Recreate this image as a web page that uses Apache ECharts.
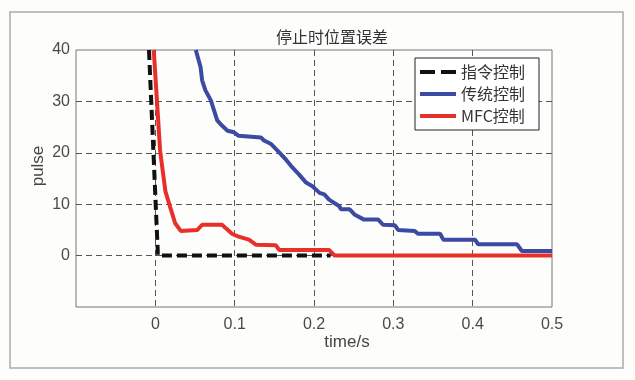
<!DOCTYPE html>
<html>
<head>
<meta charset="utf-8">
<script src="https://cdn.jsdelivr.net/npm/echarts@6/dist/echarts.min.js"></script>
<style>
html,body{margin:0;padding:0;background:#fdfdfc;}
#c{width:635px;height:380px;}
</style>
</head>
<body>
<div id="c"></div>
<script>
// ---- data ----
var titleText = '停止时位置误差';
var seriesNames = ['指令控制', '传统控制', 'MFC控制'];
var xTicks = [0, 0.1, 0.2, 0.3, 0.4, 0.5];
var yTicks = [0, 10, 20, 30, 40];

var cmdT = [-0.008, 0.003, 0.003, 0.221];
var cmdV = [40, 1, 0, 0];

var tradT = [0.051,0.057,0.059,0.063,0.070,0.078,0.084,0.091,0.099,0.105,0.133,0.137,0.146,0.154,0.165,0.173,0.181,0.190,0.198,0.207,0.213,0.219,0.232,0.234,0.245,0.251,0.263,0.281,0.287,0.302,0.306,0.327,0.331,0.359,0.363,0.403,0.407,0.456,0.462,0.5];
var tradV = [40,36.7,34.1,32.2,30.2,26.3,25.3,24.3,24.0,23.3,23.0,22.4,21.7,20.4,18.6,17.1,15.8,14.2,13.5,12.2,11.9,10.9,9.6,9.0,9.0,8.0,7.0,7.0,6.0,5.9,5.0,4.8,4.25,4.25,3.1,3.1,2.2,2.2,0.9,0.9];

var mfcT = [-0.002,0.002,0.006,0.0127,0.019,0.025,0.032,0.053,0.059,0.084,0.089,0.097,0.105,0.118,0.127,0.152,0.156,0.219,0.226,0.5];
var mfcV = [40,30.2,20.4,12.5,9.3,6.3,4.8,5.0,6.0,6.0,5.3,4.2,3.7,3.1,2.1,2.0,1.1,1.1,0,0];

function zip(a, b){ return a.map(function(x,i){ return [x, b[i]]; }); }

var chart = echarts.init(document.getElementById('c'), null, {renderer:'canvas'});
var tickFont = {fontFamily:'Liberation Sans, Arial, sans-serif', fontSize:16, color:'#4a4a4a'};
var dashed = {show:true, showMinLine:false, showMaxLine:false, lineStyle:{color:'#555', type:[6,4], width:1}};

chart.setOption({
  backgroundColor:'#fdfdfc',
  animation:false,
  title:{text:titleText, left:327, textAlign:'center', top:24,
    textStyle:{fontFamily:'Noto Sans CJK SC', fontSize:16, fontWeight:'normal', color:'#333'}},
  grid:{left:76, right:83, top:50, bottom:73, show:true, borderColor:'#777', borderWidth:1, backgroundColor:'transparent'},
  legend:{
    data:[
      {name:seriesNames[0], icon:'path://M0,0H15V4H0Z M21,0H36V4H21Z', itemStyle:{color:'#111'}},
      {name:seriesNames[1], icon:'rect', itemStyle:{color:'#3b4aa3'}},
      {name:seriesNames[2], icon:'rect', itemStyle:{color:'#e8302a'}}
    ],
    orient:'vertical', left:415, top:58,
    backgroundColor:'#fff', borderColor:'#222', borderWidth:1, borderRadius:0,
    padding:[5,14,5,5], itemGap:4, itemWidth:36, itemHeight:4,
    textStyle:{fontFamily:'Noto Sans CJK SC', fontSize:16, color:'#333', lineHeight:18}
  },
  xAxis:{type:'value', min:-0.1, max:0.5, interval:0.1,
    axisLine:{show:false}, axisTick:{show:false},
    axisLabel:Object.assign({margin:10, formatter:function(v){
      var r = Math.round(v*10)/10;
      return xTicks.indexOf(r) >= 0 ? String(r) : '';
    }}, tickFont),
    splitLine:dashed},
  yAxis:{type:'value', min:-10, max:40, interval:10,
    axisLine:{show:false}, axisTick:{show:false},
    axisLabel:Object.assign({margin:6, formatter:function(v){
      return yTicks.indexOf(v) >= 0 ? String(v) : '';
    }}, tickFont),
    splitLine:dashed},
  graphic:[
    {type:'rect', shape:{x:10, y:12, width:613, height:356}, style:{fill:'none', stroke:'#aaa', lineWidth:1.5}, silent:true, z:-1},
    {type:'text', x:347, y:342, style:{text:'time/s', fontFamily:'Liberation Sans, Arial, sans-serif', fontSize:17, fill:'#444', textAlign:'center', textVerticalAlign:'middle'}},
    {type:'text', x:38, y:166, rotation:Math.PI/2, style:{text:'pulse', fontFamily:'Liberation Sans, Arial, sans-serif', fontSize:17, fill:'#444', textAlign:'center', textVerticalAlign:'middle'}}
  ],
  series:[
    {name:seriesNames[0], type:'line', data:zip(cmdT, cmdV), symbol:'none', z:5,
      lineStyle:{color:'#111', width:4, type:[10,5]}, itemStyle:{color:'#111'}},
    {name:seriesNames[1], type:'line', data:zip(tradT, tradV), symbol:'none', z:3,
      lineStyle:{color:'#3b4aa3', width:4}, itemStyle:{color:'#3b4aa3'}},
    {name:seriesNames[2], type:'line', data:zip(mfcT, mfcV), symbol:'none', z:4,
      lineStyle:{color:'#e8302a', width:4}, itemStyle:{color:'#e8302a'}}
  ]
});
</script>
</body>
</html>
